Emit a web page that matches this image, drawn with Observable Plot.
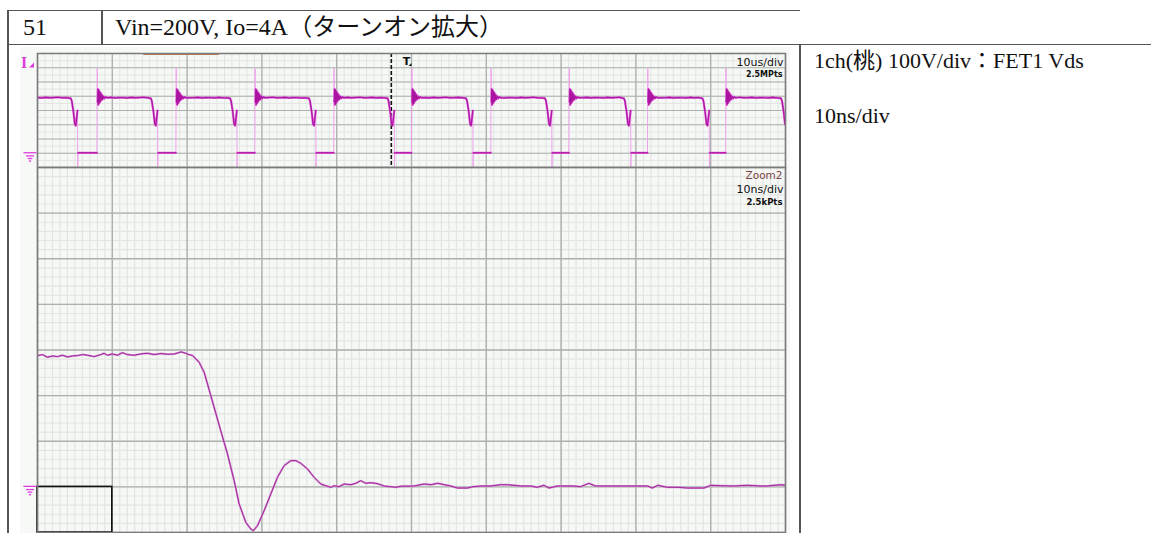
<!DOCTYPE html>
<html>
<head>
<meta charset="utf-8">
<script src="https://cdn.jsdelivr.net/npm/d3@7"></script>
<script src="https://cdn.jsdelivr.net/npm/@observablehq/plot@0.6"></script>
<style>
html,body{margin:0;padding:0;background:#fff;}
body{position:relative;width:1151px;height:533px;overflow:hidden;font-family:"Liberation Serif","Noto Sans CJK JP",serif;color:#111;}
.ln{position:absolute;background:#555;}
.t{position:absolute;white-space:nowrap;line-height:1;font-family:"Liberation Serif","Noto Sans CJK JP",serif;}
#scopebg{position:absolute;left:20px;top:47px;width:770px;height:486px;background:#f7f9f7;}
#upper,#lower{position:absolute;left:20px;}
#upper{top:53px;} #lower{top:167px;}
svg{overflow:visible;}
</style>
</head>
<body>
<div class="ln" style="left:7px;top:9.5px;width:793px;height:1.5px"></div>
<div class="ln" style="left:7px;top:43.5px;width:1144px;height:1.5px"></div>
<div class="ln" style="left:7px;top:10px;width:1.5px;height:523px"></div>
<div class="ln" style="left:101px;top:10px;width:1.5px;height:34px"></div>
<div class="ln" style="left:799px;top:44px;width:1.5px;height:489px"></div>
<div id="scopebg"></div>
<div id="hdr"></div>
<div id="upper"></div>
<div id="lower"></div>
<script>
// ---------- texts ----------
const headerNo = "51";
const headerTitle = "Vin=200V, Io=4A（ターンオン拡大）";
const noteLines = ["1ch(桃) 100V/div：FET1 Vds", "10ns/div"];
const upperLabels = ["10us/div", "2.5MPts"];
const lowerLabels = ["Zoom2", "10ns/div", "2.5kPts"];

// ---------- grid ticks ----------
const majorX = [0, 10, 20, 30, 40, 50, 60, 70, 80, 90, 100];
const majorY = [-100, 0, 100, 200, 300, 400, 500, 600, 700];
const minorX = d3.range(0, 100, 1);
const upperMinorY = d3.range(-100, 700, 50);
const lowerMinorY = d3.range(-100, 700, 20);

// ---------- upper record (µs, V) ----------
const upperFallTimes = [4.45, 15.15, 25.75, 36.3, 46.8, 57.3, 67.85, 78.4, 88.9, 99.4];
const upperRiseTimes = [7.95, 18.5, 29.05, 39.6, 50.0, 60.6, 71.05, 81.55, 92.0];
const fallShape = [[-0.35, 388], [0, 385], [0.13, 368], [0.36, 288], [0.53, 206], [0.67, 194], [0.8, 253], [0.9, 300]];
const dropShape = [[0.9, 300], [0.93, -98], [0.97, 3]];
const lowLevel = 3;
const riseShape = [[0, 3], [0.04, 595], [0.08, 360]];
const ringShape = [[0.08, 360], [0.12, 450], [0.17, 340], [0.22, 445], [0.28, 350], [0.34, 435], [0.41, 360], [0.48, 425], [0.56, 370], [0.65, 412], [0.75, 378], [0.87, 400], [1.0, 385], [1.15, 395], [1.35, 389]];
const plateauNoise = [390, 388, 392, 389, 391, 393, 389, 390, 392, 388, 391];
const cursorTime = 47.3;
const triggerTime = 49.4;
const zoomWindow = [14.2, 24.3];

// ---------- zoomed trace (ns, V) ----------
const lowerTrace = [
 [0,287.7],[0.67,289.9],[1.34,284.1],[2.0,287.0],[2.67,285.5],[3.34,288.5],[4.0,284.8],[4.67,287.0],[5.34,287.7],[6.0,289.9],
 [6.68,288.5],[7.57,285.5],[8.46,289.9],[8.9,292.8],[9.35,288.5],[10.0,291.4],[10.7,288.5],[11.36,294.3],[12.0,289.9],[12.9,288.5],
 [13.8,291.4],[14.7,292.8],[15.6,290.0],[16.5,292.1],[17.4,290.7],[18.3,291.4],[19.2,295.8],[19.8,292.8],[20.27,289.9],
 [20.72,288],[21.61,273.1],[22.28,251.2],[23.17,200],[24.5,123.2],[25.4,72.1],[26.29,13.6],[26.96,-37.6],[27.85,-77.8],[28.52,-92.4],
 [28.87,-96],[29.41,-85.1],[30.3,-52.2],[31.19,-15.6],[32.08,20.9],[32.97,46.5],[33.86,57.5],[34.53,57.5],[35.2,51.6],[36.09,39.2],
 [36.98,20.9],[37.87,6.3],[38.54,2.6],[39.25,-1],
 [39.65,2.6],[40.3,0.4],[41.0,6.3],[41.9,4.8],[42.55,7.8],[43.2,13.6],[43.9,7.8],[44.5,9.2],[45.2,7.8],[45.9,4.8],[46.3,1.9],[47.2,0.4],[47.9,-1],[48.6,1.5],
 [50.35,1.9],[51.7,6.3],[52.6,4.8],[53.5,7.8],[54.4,4.8],[55.25,1.9],[56.15,-2.5],[57.5,-2.5],[58.2,0.4],[59.3,1.9],[60.6,1.9],[61.9,4.8],
 [62.8,4.8],[63.7,3.4],[64.6,1.9],[65.95,1.9],[66.8,-1],[67.7,3.4],[68.4,-2.5],[69.5,1.9],[70.9,1.9],[71.7,1.9],[72.6,0.4],[73.7,7.8],
 [74.6,1.9],[76.2,1.9],[78.0,1.9],[79.8,1.9],[81.55,1.9],[82.2,-2.5],[82.9,3.4],[84.2,-1],[85.6,-1],[86.9,-2.5],[87.8,-2.5],[89.1,-2.5],
 [90.0,3.4],[91.35,2.6],[93.1,1.9],[94.9,3.4],[96.7,1.9],[97.6,1.9],[98.5,3.4],[99.4,4.8],[100,3.4]
];
const zoomBox = [{x1: 0, x2: 10, y1: -100, y2: 0}];

// ---------- header / note text ----------
const hdr = document.getElementById("hdr");
function addText(str, left, top, size) {
  const d = document.createElement("div");
  d.className = "t"; d.textContent = str;
  d.style.left = left + "px"; d.style.top = top + "px"; d.style.fontSize = size + "px";
  hdr.appendChild(d);
}
addText(headerNo, 23, 15, 24);
addText(headerTitle, 115, 15, 24);
addText(noteLines[0], 814, 50, 22);
addText(noteLines[1], 814, 105, 22);

// ---------- build upper trace segments ----------
const upperSlow = [], upperFast = [];
{
  let seg = 0, cur = [], k = 0, start = 0;
  const plateau = (t0, t1) => { for (let t = t0; t < t1 - 0.2; t += 0.55) cur.push({t, v: plateauNoise[k++ % plateauNoise.length]}); };
  upperFallTimes.forEach((f, i) => {
    plateau(start, f + fallShape[0][0]);
    fallShape.forEach(([dt, v]) => cur.push({t: f + dt, v}));
    cur.forEach(d => upperSlow.push({...d, seg})); seg++;
    dropShape.forEach(([dt, v]) => upperFast.push({t: f + dt, v, seg})); seg++;
    const r = upperRiseTimes[i];
    if (r === undefined) { cur = []; return; }
    upperSlow.push({t: f + dropShape[dropShape.length - 1][0], v: lowLevel, seg}, {t: r, v: lowLevel, seg}); seg++;
    riseShape.forEach(([dt, v]) => upperFast.push({t: r + dt, v, seg})); seg++;
    cur = ringShape.map(([dt, v]) => ({t: r + dt, v}));
    start = r + ringShape[ringShape.length - 1][0] + 0.5;
  });
}

// ---------- decorations ----------
const MAG = "#e03ce0";
function groundMark(level) {
  return (index, scales, values, dims) => {
    const g = d3.create("svg:g").attr("stroke", MAG).attr("stroke-width", 1.3).attr("fill", "none");
    const gy = scales.y(level);
    const cx = dims.marginLeft - 7;
    [[6.5, 0], [4, 3.2], [2.3, 5.8], [1.1, 8.3]].forEach(([w, dy]) =>
      g.append("line").attr("x1", cx - w).attr("x2", cx + w).attr("y1", gy + dy).attr("y2", gy + dy));
    return g.node();
  };
}
function channelMark(index, scales, values, dims) {
  const g = d3.create("svg:g");
  const x0 = dims.marginLeft - 13, y0 = dims.marginTop + 14.5;
  g.append("text").attr("x", x0).attr("y", y0).attr("fill", MAG)
    .attr("font-family", "Liberation Serif").attr("font-weight", "bold").attr("font-size", 16).text("I");
  g.append("path").attr("d", `M${x0 + 5},${y0} l5,0 l0,-5 z`).attr("fill", MAG);
  return g.node();
}
function triggerMark(index, scales, values, dims) {
  const g = d3.create("svg:g");
  const x0 = scales.x(triggerTime), y0 = dims.marginTop + 12;
  g.append("text").attr("x", x0).attr("y", y0).attr("text-anchor", "middle").attr("fill", "#111")
    .attr("font-family", "DejaVu Sans").attr("font-weight", "bold").attr("font-size", 11).text("T");
  g.append("path").attr("d", `M${x0 + 2},${y0 + 1} l3,0 l0,-3 z`).attr("fill", "#111");
  return g.node();
}

const BG = "#f6f8f6", MINOR = "#e2e5e2", MAJOR = "#adb0ad", FRAME = "#7a7a7a";
const labelFont = "DejaVu Sans";

// ---------- upper plot ----------
const upper = Plot.plot({
  width: 769, height: 114,
  marginLeft: 17, marginRight: 4, marginTop: 0, marginBottom: 0,
  x: {domain: [0, 100], axis: null},
  y: {domain: [-100, 700], axis: null},
  style: {background: "transparent", overflow: "visible"},
  marks: [
    Plot.frame({fill: BG, stroke: null}),
    Plot.ruleX(minorX, {stroke: MINOR, strokeWidth: 1}),
    Plot.ruleY(upperMinorY, {stroke: MINOR, strokeWidth: 1}),
    Plot.ruleX(majorX, {stroke: MAJOR, strokeWidth: 1.3}),
    Plot.ruleY(majorY, {stroke: MAJOR, strokeWidth: 1.2}),
    Plot.ruleY([700], {x1: zoomWindow[0], x2: zoomWindow[1], stroke: "#c97b4f", strokeWidth: 2.2, dy: 0.5}),
    Plot.ruleX([cursorTime], {stroke: "#111", strokeWidth: 1.6, strokeDasharray: "4,2"}),
    Plot.line(upperFast, {x: "t", y: "v", z: "seg", stroke: "#f0a2ec", strokeWidth: 1, clip: true}),
    Plot.line(upperSlow, {x: "t", y: "v", z: "seg", stroke: "#dc58d8", strokeWidth: 2.2, clip: true}),
    Plot.line(upperSlow, {x: "t", y: "v", z: "seg", stroke: "#aa149e", strokeWidth: 1.1, clip: true}),
    Plot.text([upperLabels[0]], {text: d => d, frameAnchor: "top-right", textAnchor: "end", lineAnchor: "middle", dx: -2, dy: 9, fontSize: 11, fontFamily: labelFont, fill: "#111"}),
    Plot.text([upperLabels[1]], {text: d => d, frameAnchor: "top-right", textAnchor: "end", lineAnchor: "middle", dx: -3, dy: 21, fontSize: 8, fontWeight: "bold", fontFamily: labelFont, fill: "#111"}),
    groundMark(0), channelMark, triggerMark,
    Plot.frame({stroke: FRAME, strokeWidth: 1.5})
  ]
});
document.getElementById("upper").appendChild(upper);

// ---------- lower (zoom) plot ----------
const lower = Plot.plot({
  width: 769, height: 366,
  marginLeft: 17, marginRight: 4, marginTop: 0, marginBottom: 1,
  x: {domain: [0, 100], axis: null},
  y: {domain: [-100, 700], axis: null},
  style: {background: "transparent", overflow: "visible"},
  marks: [
    Plot.frame({fill: BG, stroke: null}),
    Plot.ruleX(minorX, {stroke: MINOR, strokeWidth: 1.2}),
    Plot.ruleY(lowerMinorY, {stroke: MINOR, strokeWidth: 1.2}),
    Plot.ruleX(majorX, {stroke: MAJOR, strokeWidth: 1.4}),
    Plot.ruleY(majorY, {stroke: MAJOR, strokeWidth: 1.4}),
    Plot.rect(zoomBox, {x1: "x1", x2: "x2", y1: "y1", y2: "y2", fill: "none", stroke: "#111", strokeWidth: 1.6}),
    Plot.line(lowerTrace, {x: d => d[0], y: d => d[1], stroke: "#d690d2", strokeWidth: 2.0, clip: true}),
    Plot.line(lowerTrace, {x: d => d[0], y: d => d[1], stroke: "#a0259a", strokeWidth: 1.0, clip: true}),
    Plot.text([lowerLabels[0]], {text: d => d, frameAnchor: "top-right", textAnchor: "end", lineAnchor: "middle", dx: -3, dy: 8, fontSize: 10.5, fontFamily: labelFont, fill: "#7a4646"}),
    Plot.text([lowerLabels[1]], {text: d => d, frameAnchor: "top-right", textAnchor: "end", lineAnchor: "middle", dx: -2, dy: 21.5, fontSize: 11, fontFamily: labelFont, fill: "#111"}),
    Plot.text([lowerLabels[2]], {text: d => d, frameAnchor: "top-right", textAnchor: "end", lineAnchor: "middle", dx: -3, dy: 35, fontSize: 8.5, fontWeight: "bold", fontFamily: labelFont, fill: "#111"}),
    groundMark(0),
    Plot.frame({stroke: FRAME, strokeWidth: 1.5})
  ]
});
document.getElementById("lower").appendChild(lower);
</script>
</body>
</html>
